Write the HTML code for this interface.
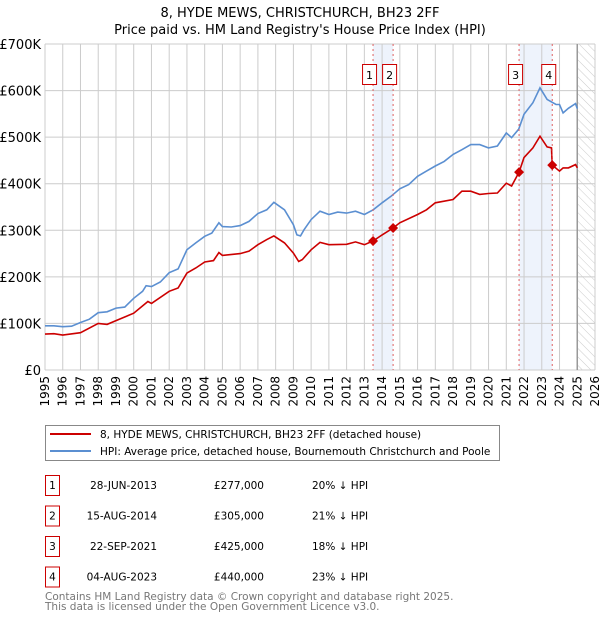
<!DOCTYPE html>
<html><head><meta charset="utf-8"><style>
body{margin:0;background:#fff;font-family:"DejaVu Sans","Liberation Sans",sans-serif;}
svg{display:block}
</style></head><body>
<svg id="chart" width="600" height="620" xmlns="http://www.w3.org/2000/svg" font-family="DejaVu Sans, Liberation Sans, sans-serif">
<defs><pattern id="hatch" width="6" height="6" patternUnits="userSpaceOnUse" patternTransform="rotate(-45)"><line x1="0" y1="0" x2="0" y2="6" stroke="#ccc" stroke-width="1"/></pattern></defs>
<text x="300" y="17" text-anchor="middle" font-size="13">8, HYDE MEWS, CHRISTCHURCH, BH23 2FF</text>
<text x="300" y="34" text-anchor="middle" font-size="13">Price paid vs. HM Land Registry's House Price Index (HPI)</text>
<g id="grid"></g><g id="marks"></g>
<g>
<rect x="45.5" y="425.5" width="454" height="35" fill="#fff" stroke="#888"/>
<line x1="50" y1="434" x2="91" y2="434" stroke="#cc0000" stroke-width="2"/>
<text x="100" y="438" font-size="10.5">8, HYDE MEWS, CHRISTCHURCH, BH23 2FF (detached house)</text>
<line x1="50" y1="451" x2="91" y2="451" stroke="#5b8fd1" stroke-width="2"/>
<text x="100" y="455" font-size="10.5">HPI: Average price, detached house, Bournemouth Christchurch and Poole</text>
</g>
<g id="table" font-size="10.5"></g>
<text x="45" y="600" font-size="10.5" fill="#777">Contains HM Land Registry data © Crown copyright and database right 2025.</text>
<text x="45" y="610" font-size="10.5" fill="#777">This data is licensed under the Open Government Licence v3.0.</text>
</svg>
<script>
const hpiYears=[1995,1995.5,1996,1996.5,1997,1997.5,1998,1998.5,1999,1999.5,2000,2000.5,2000.7,2001,2001.5,2002,2002.5,2003,2003.5,2004,2004.4,2004.8,2005,2005.5,2006,2006.5,2007,2007.5,2007.9,2008.5,2009,2009.2,2009.4,2009.6,2010,2010.5,2011,2011.5,2012,2012.5,2013,2013.5,2014,2014.5,2015,2015.5,2016,2016.5,2017,2017.5,2018,2018.5,2019,2019.5,2020,2020.5,2021,2021.3,2021.7,2022,2022.5,2022.9,2023.3,2023.8,2024,2024.2,2024.5,2024.9,2025];
const hpiValues=[95,95,93,94,102,109,123,125,133,135,154,169,181,179,189,209,217,258,273,287,294,316,308,307,310,319,336,344,360,344,312,290,288,301,323,341,334,339,337,341,334,344,359,373,389,398,416,427,438,448,463,473,484,484,477,481,509,499,517,549,574,606,581,570,570,552,562,572,561];
const priceYears=[1995,1995.5,1996,1997,1998,1998.5,1999,2000,2000.8,2001,2002,2002.5,2003,2003.5,2004,2004.5,2004.8,2005,2006,2006.5,2007,2007.5,2007.9,2008.5,2009,2009.3,2009.5,2010,2010.5,2011,2012,2012.5,2013,2013.49,2014,2014.62,2015,2016,2016.5,2017,2018,2018.5,2019,2019.5,2020,2020.5,2021,2021.3,2021.72,2022,2022.5,2022.9,2023.3,2023.55,2023.59,2024,2024.2,2024.5,2024.9,2025];
const priceValues=[77,78,75,80,100,98,106,122,147,143,169,176,208,219,232,235,252,246,250,255,269,280,288,273,251,233,237,258,274,269,270,275,269,277,290,305,316,334,344,359,366,384,384,377,379,380,401,395,425,456,477,502,479,477,440,427,434,434,441,434];
const saleYears=[2013.49,2014.62,2021.72,2023.59];
const saleValues=[277,305,425,440];
const saleLabels=["1","2","3","4"];
const saleDates=["28-JUN-2013","15-AUG-2014","22-SEP-2021","04-AUG-2023"];
const salePrices=["£277,000","£305,000","£425,000","£440,000"];
const saleDiffs=["20% ↓ HPI","21% ↓ HPI","18% ↓ HPI","23% ↓ HPI"];
const yTicks=[0,100,200,300,400,500,600,700];
const yTickLabels=["£0","£100K","£200K","£300K","£400K","£500K","£600K","£700K"];
const xTicks=[1995,1996,1997,1998,1999,2000,2001,2002,2003,2004,2005,2006,2007,2008,2009,2010,2011,2012,2013,2014,2015,2016,2017,2018,2019,2020,2021,2022,2023,2024,2025,2026];

const NS="http://www.w3.org/2000/svg";
const X0=45,X1=595,Y0=370,Y1=44;
const xs=v=>X0+(v-1995)/(2026-1995)*(X1-X0);
const ys=v=>Y0-v/700*(Y0-Y1);
function mk(t,a,p){const e=document.createElementNS(NS,t);for(const k in a)e.setAttribute(k,a[k]);p.appendChild(e);return e;}
const grid=document.getElementById('grid'),marks=document.getElementById('marks'),tbl=document.getElementById('table');
[[0,1],[2,3]].forEach((pr,i)=>{const r=mk('rect',{x:xs(saleYears[pr[0]]),y:Y1,width:xs(saleYears[pr[1]])-xs(saleYears[pr[0]]),height:Y0-Y1,fill:'#eef3fc'},grid);

});
const h=mk('rect',{x:xs(2025),y:Y1,width:X1-xs(2025),height:Y0-Y1,fill:'url(#hatch)'},grid);


xTicks.forEach(t=>{const l=mk('line',{x1:xs(t),x2:xs(t),y1:Y1,y2:Y0,stroke:'#ccc'},grid);


const tx=mk('text',{x:xs(t)+4,y:Y0+6,'font-size':12,transform:`rotate(-90 ${xs(t)+4} ${Y0+6})`,'text-anchor':'end'},grid);tx.textContent=t;

});
yTicks.forEach((t,i)=>{const l=mk('line',{x1:X0,x2:X1,y1:ys(t),y2:ys(t),stroke:'#ccc'},grid);


const tx=mk('text',{x:X0-4,y:ys(t)+5,'font-size':13,'text-anchor':'end'},grid);tx.textContent=yTickLabels[i];

});
const nl=mk('line',{x1:xs(2025),x2:xs(2025),y1:Y1,y2:Y0,stroke:'#999','stroke-width':1.5},grid);


function path(xa,va,col,name){const d=xa.map((x,i)=>(i?'L':'M')+xs(x).toFixed(1)+' '+ys(va[i]).toFixed(1)).join('');
const p=mk('path',{d:d,fill:'none',stroke:col,'stroke-width':1.6},marks);

}
path(hpiYears,hpiValues,'#5b8fd1','hpi-line');
path(priceYears,priceValues,'#cc0000','price-paid-line');
saleYears.forEach((s,i)=>{const x=xs(s);
const l=mk('line',{x1:x,x2:x,y1:Y1,y2:Y0,stroke:'#e06060','stroke-dasharray':'2,3'},marks);


const g=mk('g',{},marks);


const cx=x-3;
mk('rect',{x:cx-7.5,y:64.5,width:14,height:20,fill:'#fff',stroke:'#cc0000'},g);
const t=mk('text',{x:cx-0.5,y:79,'font-size':11,'text-anchor':'middle'},g);t.textContent=saleLabels[i];
const d=mk('path',{d:`M${x} ${ys(saleValues[i])-5}L${x+5} ${ys(saleValues[i])}L${x} ${ys(saleValues[i])+5}L${x-5} ${ys(saleValues[i])}Z`,fill:'#cc0000'},marks);


const ry=475+i*30.5;const row=mk('g',{},tbl);


mk('rect',{x:45.5,y:ry+0.5,width:14,height:20,fill:'#fff',stroke:'#cc0000'},row);
const a=mk('text',{x:52.5,y:ry+14,'text-anchor':'middle'},row);a.textContent=saleLabels[i];
const b=mk('text',{x:157,y:ry+14,'text-anchor':'end'},row);b.textContent=saleDates[i];
const c=mk('text',{x:264,y:ry+14,'text-anchor':'end'},row);c.textContent=salePrices[i];
const e=mk('text',{x:312,y:ry+14},row);e.textContent=saleDiffs[i];});
</script>
</body></html>
